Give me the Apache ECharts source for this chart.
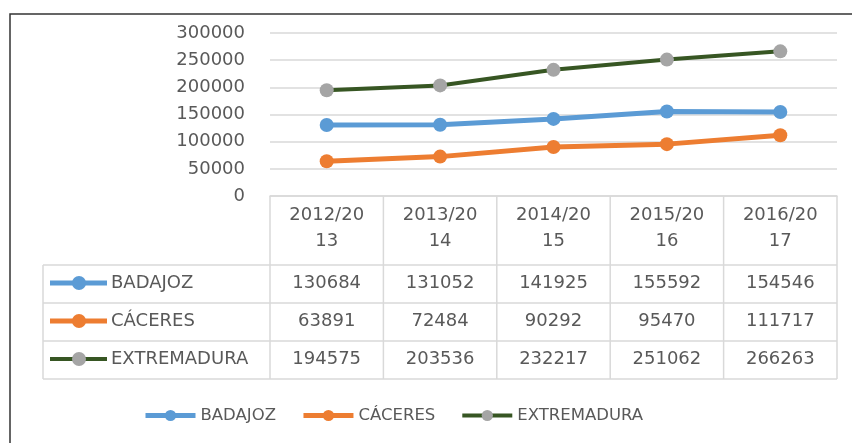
<!DOCTYPE html>
<html><head><meta charset="utf-8">
<script src="https://cdn.jsdelivr.net/npm/echarts@6/dist/echarts.min.js"></script>
<style>html,body{margin:0;padding:0;background:#fff}#c{width:852px;height:443px}</style>
</head><body><div id="c"></div>
<script>
const categories = ['2012/2013','2013/2014','2014/2015','2015/2016','2016/2017'];
const seriesNames = ['BADAJOZ','CÁCERES','EXTREMADURA'];
const badajoz = [130684,131052,141925,155592,154546];
const caceres = [63891,72484,90292,95470,111717];
const extremadura = [194575,203536,232217,251062,266263];
const yMin = 0, yMax = 300000, yInterval = 50000;

const seriesData = [badajoz, caceres, extremadura];
const lineColors = ['#5B9BD5','#ED7D31','#375623'];
const markerColors = ['#5B9BD5','#ED7D31','#A5A5A5'];
const lineWidths = [5,5,4];
const FONT = 'DejaVu Sans';
const TXT = '#595959';
const GRIDC = '#D9D9D9';

const chart = echarts.init(document.getElementById('c'), null, {renderer:'canvas'});
chart.setOption({
  animation:false,
  backgroundColor:'#fff',
  grid:{left:270, right:15, top:33, bottom:247},
  xAxis:{type:'category', data:categories, boundaryGap:true,
    axisLine:{show:true, lineStyle:{color:GRIDC, width:1.5}},
    axisTick:{show:false},
    axisLabel:{color:TXT, fontFamily:FONT, fontSize:18, lineHeight:26, margin:6,
      formatter:v=>v.slice(0,7)+'\n'+v.slice(7)}},
  yAxis:{type:'value', min:yMin, max:yMax, interval:yInterval,
    axisLine:{show:false}, axisTick:{show:false},
    axisLabel:{color:TXT, fontFamily:FONT, fontSize:18, margin:25, formatter:v=>String(v)},
    splitLine:{lineStyle:{color:GRIDC, width:1.5}}},
  legend:{left:138, top:402, itemWidth:50, itemHeight:14, itemGap:25,
    data: seriesNames.map((n,i)=>({name:n, lineStyle:{width:lineWidths[i]}})),
    textStyle:{color:TXT, fontFamily:FONT, fontSize:16.5}},
  series: seriesNames.map((n,i)=>({
    name:n, type:'line', data:seriesData[i], symbol:'circle', symbolSize:14,
    lineStyle:{color:lineColors[i], width:lineWidths[i]},
    itemStyle:{color:markerColors[i]}
  }))
});

// Data table under the axis, positioned from the axis scale
const cx = categories.map((c,i)=>chart.convertToPixel({xAxisIndex:0}, i));
const bw = cx[1]-cx[0];
const x0 = cx[0]-bw/2, xEnd = cx[cx.length-1]+bw/2;
const yBase = chart.convertToPixel({yAxisIndex:0}, yMin);
const headerH = 69, rowH = 38, legendColX = 43;
const g = [];
const line=(x1,y1,x2,y2,col,w)=>g.push({type:'line', silent:true, shape:{x1,y1,x2,y2}, style:{stroke:col||GRIDC, lineWidth:w||1.5}});
const rowTop = yBase+headerH;
const tableBottom = rowTop + rowH*seriesNames.length;
for(let i=0;i<=categories.length;i++){ const x = x0+bw*i; line(x,yBase,x,tableBottom); }
line(legendColX,rowTop,legendColX,tableBottom);
for(let r=0;r<=seriesNames.length;r++){ const y=rowTop+rowH*r; line(legendColX,y,xEnd,y); }
seriesNames.forEach((n,r)=>{
  const yc = rowTop+rowH*r+rowH/2-1;
  g.push({type:'line', silent:true, shape:{x1:50,y1:yc,x2:107,y2:yc}, style:{stroke:lineColors[r], lineWidth:lineWidths[r]}});
  g.push({type:'circle', silent:true, shape:{cx:79,cy:yc,r:7}, style:{fill:markerColors[r]}});
  g.push({type:'text', silent:true, style:{text:n, x:111, y:yc, align:'left', verticalAlign:'middle', fill:TXT, fontFamily:FONT, fontSize:18}});
  seriesData[r].forEach((v,i)=>{
    g.push({type:'text', silent:true, style:{text:String(v), x:cx[i], y:yc, align:'center', verticalAlign:'middle', fill:TXT, fontFamily:FONT, fontSize:18}});
  });
});
g.push({type:'polyline', silent:true, shape:{points:[[10,443],[10,14],[852,14]]}, style:{stroke:'#333', lineWidth:1.5, fill:null}});
chart.setOption({graphic:g});
</script></body></html>
